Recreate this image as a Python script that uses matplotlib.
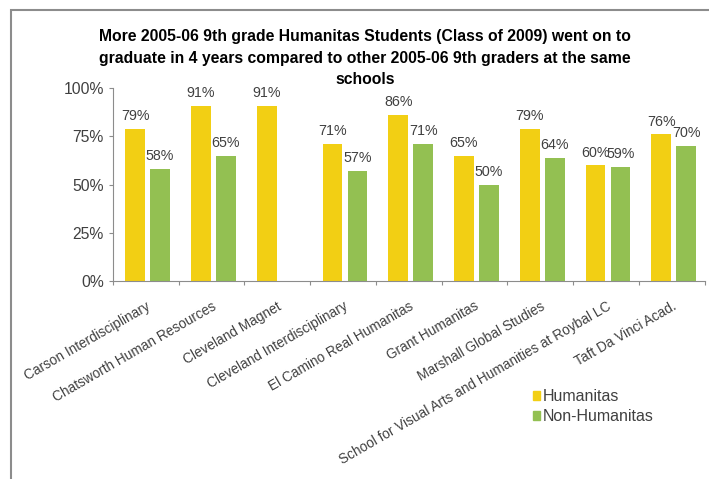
import matplotlib
matplotlib.use("Agg")
import matplotlib.pyplot as plt
import numpy as np
from matplotlib.patches import Rectangle

plt.rcParams['font.family'] = ['Liberation Sans', 'DejaVu Sans']

# data
schools = ["Carson Interdisciplinary", "Chatsworth Human Resources", "Cleveland Magnet",
           "Cleveland Interdisciplinary", "El Camino Real Humanitas", "Grant Humanitas",
           "Marshall Global Studies", "School for Visual Arts and Humanities at Roybal LC",
           "Taft Da Vinci Acad."]
humanitas = [79, 91, 91, 71, 86, 65, 79, 60, 76]
non_humanitas = [58, 65, None, 57, 71, 50, 64, 59, 70]
title_lines = ["More 2005-06 9th grade Humanitas Students (Class of 2009) went on to",
               "graduate in 4 years compared to other 2005-06 9th graders at the same",
               "schools"]

yellow = '#F2CF14'
green = '#93C052'
txt = '#404040'

fig = plt.figure(figsize=(7.09, 4.79), dpi=100)
fig.add_artist(Rectangle((11/709, -0.1), 1.1, 1 - 10/479 + 0.1, transform=fig.transFigure,
                         fill=False, edgecolor='#8c8c8c', linewidth=1.5))
ax = fig.add_axes([0.159, 0.413, 0.835, 0.403])

x = np.arange(len(schools))
w = 0.3
for i in x:
    h = humanitas[i]
    ax.bar(i - 0.16, h, w, color=yellow)
    ax.text(i - 0.16, h + 3, f"{h}%", ha='center', va='bottom', fontsize=10.3, color=txt)
    n = non_humanitas[i]
    if n is not None:
        ax.bar(i + 0.22, n, w, color=green)
        ax.text(i + 0.22, n + 3, f"{n}%", ha='center', va='bottom', fontsize=10.3, color=txt)

ax.set_xlim(-0.5, len(schools) - 0.5)
ax.set_ylim(0, 100)
ax.set_yticks([0, 25, 50, 75, 100])
ax.set_yticklabels([f"{v}%" for v in [0, 25, 50, 75, 100]], fontsize=11.3, color=txt)

# boundary ticks as major (no labels), names on minor ticks at the centres
ax.set_xticks(np.arange(len(schools) + 1) - 0.5)
ax.set_xticklabels([])
ax.tick_params(axis='x', which='major', length=3, color='#8c8c8c')
ax.set_xticks(x, minor=True)
ax.set_xticklabels(schools, minor=True, rotation=30, ha='right', rotation_mode='anchor',
                   fontsize=9.8, color=txt)
ax.tick_params(axis='x', which='minor', length=0, pad=13)
ax.tick_params(axis='y', length=3, color='#8c8c8c')

for s in ['top', 'right']:
    ax.spines[s].set_visible(False)
for s in ['left', 'bottom']:
    ax.spines[s].set_color('#8c8c8c')

for k, line in enumerate(title_lines):
    fig.text(0.515, 1 - (36 + 22 * k) / 479, line, ha='center', va='center',
             fontsize=11.3, fontweight='bold')

handles = [Rectangle((0, 0), 1, 1, color=yellow), Rectangle((0, 0), 1, 1, color=green)]
fig.legend(handles, ["Humanitas", "Non-Humanitas"], loc='upper left',
           bbox_to_anchor=(0.74, 0.205), frameon=False, fontsize=11.5,
           handlelength=0.45, handleheight=0.5, handletextpad=0.2, labelspacing=0.35,
           labelcolor=txt, borderpad=0)

fig.savefig("out.png", dpi=100)
